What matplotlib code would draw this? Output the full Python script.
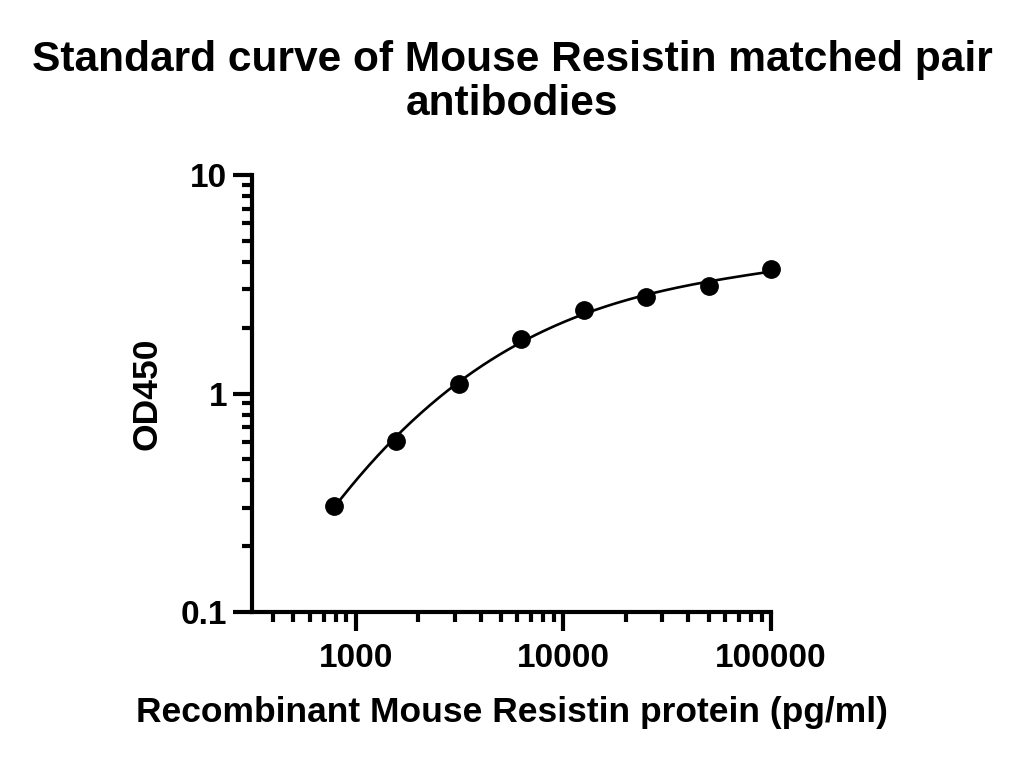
import numpy as np
import matplotlib
matplotlib.use("Agg")
import matplotlib.pyplot as plt
from matplotlib.ticker import LogLocator, NullFormatter, FixedLocator, FixedFormatter

conc = [781.25, 1562.5, 3125, 6250, 12500, 25000, 50000, 100000]
od = [0.306, 0.608, 1.105, 1.77, 2.41, 2.77, 3.11, 3.71]
xticks = [1000, 10000, 100000]
xticklabels = ["1000", "10000", "100000"]
yticks = [0.1, 1, 10]
yticklabels = ["0.1", "1", "10"]

plt.rcParams['font.family'] = ['Liberation Sans', 'DejaVu Sans']
plt.rcParams['font.weight'] = 'bold'

fig = plt.figure(figsize=(10.24, 7.63), dpi=100)
ax = fig.add_axes([252/1024, 1-612/763, (771-252)/1024, (612-175)/763])

# smooth fitted curve (cubic in log-log space)
lx = np.log10(conc)
ly = np.log10(od)
coef = np.polyfit(lx, ly, 3)
xs = np.linspace(lx[0], lx[-1], 300)
ax.plot(10**xs, 10**np.polyval(coef, xs), color='black', lw=1.9, zorder=2)
ax.plot(conc, od, 'o', color='black', ms=12.5, zorder=3, clip_on=False)

ax.set_xscale('log')
ax.set_yscale('log')
ax.set_xlim(10**2.5, 1e5)
ax.set_ylim(0.1, 10)

for s in ['top', 'right']:
    ax.spines[s].set_visible(False)
for s in ['left', 'bottom']:
    ax.spines[s].set_linewidth(3)

ax.xaxis.set_major_locator(FixedLocator(xticks))
ax.xaxis.set_major_formatter(FixedFormatter(xticklabels))
ax.yaxis.set_major_locator(FixedLocator(yticks))
ax.yaxis.set_major_formatter(FixedFormatter(yticklabels))
ax.xaxis.set_minor_locator(LogLocator(base=10, subs=np.arange(2, 10)))
ax.yaxis.set_minor_locator(LogLocator(base=10, subs=np.arange(2, 10)))
ax.xaxis.set_minor_formatter(NullFormatter())
ax.yaxis.set_minor_formatter(NullFormatter())
ax.tick_params(which='major', length=14, width=3, labelsize=24)
ax.tick_params(axis='x', which='major', pad=8)
ax.tick_params(axis='y', which='major', pad=4)
ax.tick_params(which='minor', length=7, width=3)

ax.set_xlabel("Recombinant Mouse Resistin protein (pg/ml)", fontsize=25.5, fontweight='bold', labelpad=16)
ax.set_ylabel("OD450", fontsize=25.5, fontweight='bold', labelpad=12)

fig.text(0.5, 1-82/763, "Standard curve of Mouse Resistin matched pair\nantibodies",
         ha='center', va='center', fontsize=30.6, fontweight='bold', linespacing=1.12)

fig.savefig("out.png", dpi=100)
